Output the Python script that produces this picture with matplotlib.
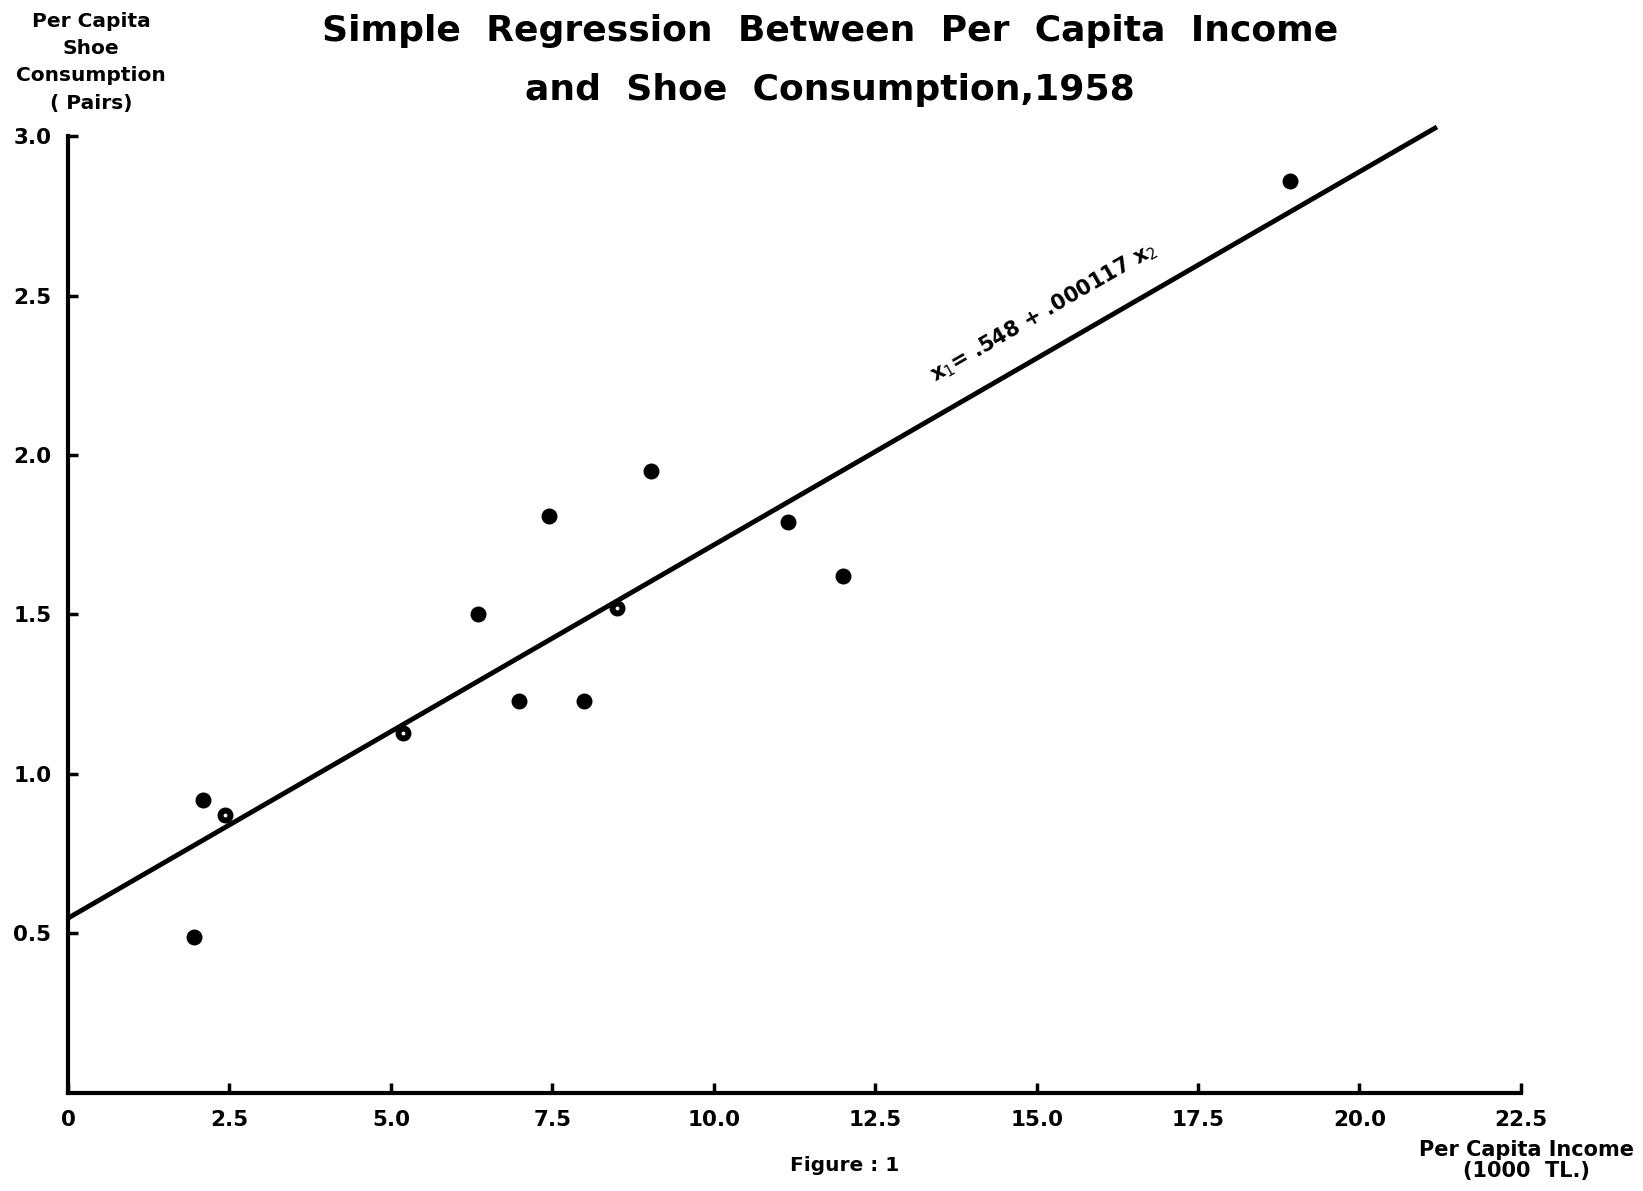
import matplotlib
matplotlib.use("Agg")
import matplotlib.pyplot as plt
import numpy as np

# Data (per capita income in 1000 TL, per capita shoe consumption in pairs)
income = [1.95, 2.09, 2.43, 5.19, 6.35, 6.98, 7.45, 7.99, 8.50, 9.03, 11.15, 12.00, 18.93]
shoes = [0.49, 0.92, 0.87, 1.13, 1.50, 1.23, 1.81, 1.23, 1.52, 1.95, 1.79, 1.62, 2.86]
ring_points = [2, 3, 8]  # indices drawn with a small light centre

intercept = 0.548
slope = 0.117  # per 1000 TL (.000117 per TL)
line_x_range = [0.0, 21.2]

xticks = [0, 2.5, 5.0, 7.5, 10.0, 12.5, 15.0, 17.5, 20.0, 22.5]
xticklabels = ["0", "2.5", "5.0", "7.5", "10.0", "12.5", "15.0", "17.5", "20.0", "22.5"]
yticks = [0.5, 1.0, 1.5, 2.0, 2.5, 3.0]
yticklabels = ["0.5", "1.0", "1.5", "2.0", "2.5", "3.0"]

plt.rcParams['font.family'] = ['DejaVu Sans']

fig = plt.figure(figsize=(16.43, 11.91), dpi=100)
ax = fig.add_axes([0.0414, 0.0823, 0.9257 - 0.0414, 0.8858 - 0.0823])

ax.set_xlim(0, 22.5)
ax.set_ylim(0, 3.0)

for s in ["top", "right"]:
    ax.spines[s].set_visible(False)
for s in ["left", "bottom"]:
    ax.spines[s].set_linewidth(3)
    ax.spines[s].set_color("black")

ax.set_xticks(xticks)
ax.set_xticklabels(xticklabels, fontsize=15.5, fontweight="bold")
ax.set_yticks(yticks)
ax.set_yticklabels(yticklabels, fontsize=15.5, fontweight="bold")
ax.tick_params(axis="both", direction="in", length=7, width=2.5, color="black")
ax.tick_params(axis="x", pad=12)
ax.tick_params(axis="y", pad=12)

# regression line
lx = np.array(line_x_range)
ax.plot(lx, intercept + slope * lx, color="black", linewidth=3.5, solid_capstyle="butt", clip_on=False)

# points
ax.scatter(income, shoes, s=110, color="black", zorder=3, clip_on=False)
ax.scatter([income[i] for i in ring_points], [shoes[i] for i in ring_points],
           s=3, color="white", zorder=4)

# equation
eq_x = 13.47
ax.text(eq_x, intercept + slope * eq_x + 0.09, r"x$_1$= .548 + .000117 x$_2$",
        rotation=30.0, rotation_mode="anchor", ha="left", va="bottom",
        fontsize=15, fontweight="bold", transform_rotates_text=False)

# title
fig.text(0.505, 0.988, "Simple  Regression  Between  Per  Capita  Income\nand  Shoe  Consumption,1958",
         ha="center", va="top", fontsize=26, fontweight="bold", linespacing=1.9)

# axis labels
fig.text(0.0555, 0.99, "Per Capita\nShoe\nConsumption\n( Pairs)", ha="center", va="top",
         fontsize=14.5, fontweight="bold", linespacing=1.55)
fig.text(0.929, 0.043, "Per Capita Income\n(1000  TL.)", ha="center", va="top",
         fontsize=15, fontweight="bold", linespacing=1.1)
fig.text(0.514, 0.029, "Figure : 1", ha="center", va="top", fontsize=14.5, fontweight="bold")

fig.savefig("out.png", dpi=100, facecolor="white")
